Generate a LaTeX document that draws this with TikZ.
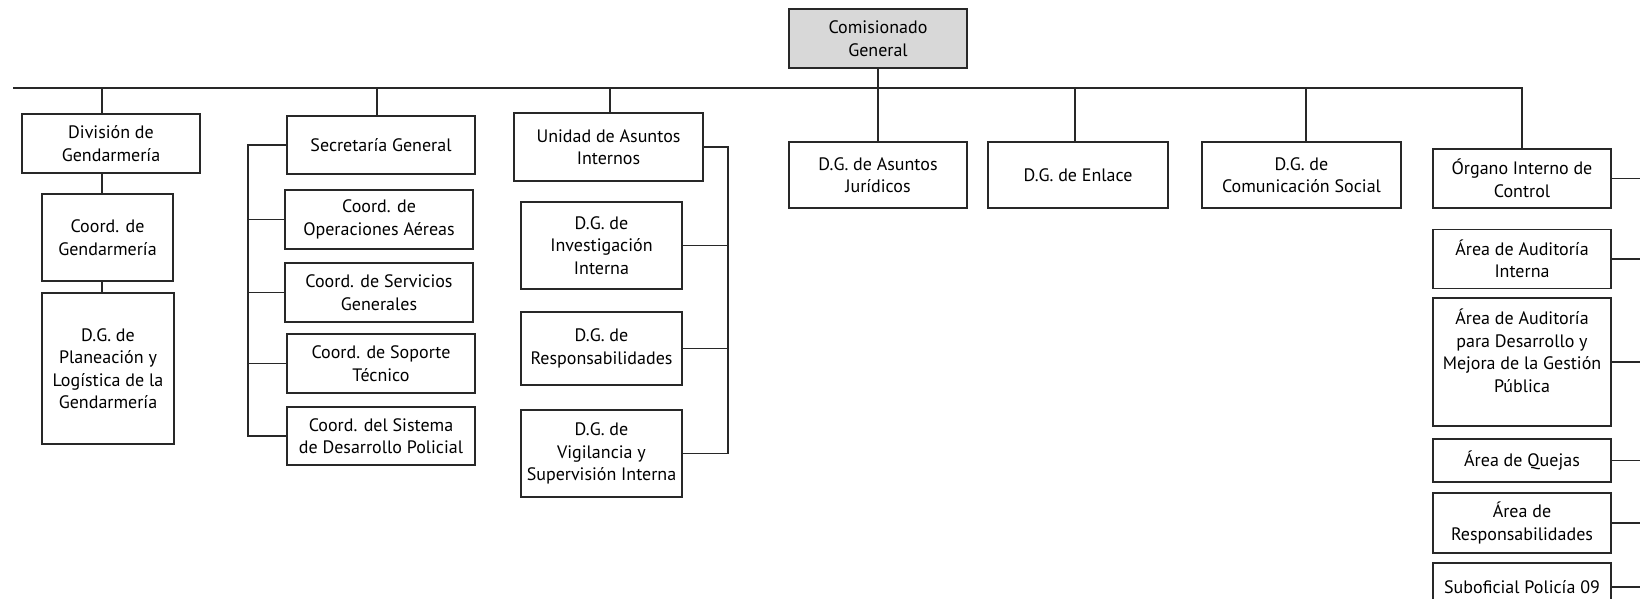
\documentclass[tikz,border=0pt]{standalone}
\usepackage{fontspec}
\setmainfont{PT Sans}
\definecolor{ln}{RGB}{40,40,40}
\definecolor{comfill}{RGB}{216,216,216}
\begin{document}
\begin{tikzpicture}[x=1pt,y=-1pt,
  box/.style={draw=ln, line width=1.2pt, fill=white, align=center, inner sep=0pt,
    font=\fontsize{18}{22.5}\selectfont},
  conn/.style={draw=ln, line width=1.3pt}]
\clip (0,0) rectangle (1640,598);
\fill[white] (0,0) rectangle (1640,598);

% nodes
\node[box, fill=comfill, minimum width=178pt, minimum height=59pt] (com) at (878,38.5) {Comisionado\\General};
\node[box, minimum width=178pt, minimum height=59pt] (div) at (111,143.5) {División de\\Gendarmería};
\node[box, minimum width=131pt, minimum height=87pt] (cg) at (107.5,237.5) {Coord. de\\Gendarmería};
\node[box, minimum width=132pt, minimum height=151pt] (pl) at (108,368.5) {D.G. de\\Planeación y\\Logística de la\\Gendarmería};
\node[box, minimum width=188pt, minimum height=58pt] (sg) at (381,145) {Secretaría General};
\node[box, minimum width=188pt, minimum height=59pt] (coa) at (379,219.5) {Coord. de\\Operaciones Aéreas};
\node[box, minimum width=188pt, minimum height=59pt] (csg) at (379,292.5) {Coord. de Servicios\\Generales};
\node[box, minimum width=188pt, minimum height=59pt] (cst) at (381,363.5) {Coord. de Soporte\\Técnico};
\node[box, minimum width=188pt, minimum height=58pt] (csd) at (381,436) {Coord. del Sistema\\de Desarrollo Policial};
\node[box, minimum width=189pt, minimum height=68pt] (uai) at (608.5,147) {Unidad de Asuntos\\Internos};
\node[box, minimum width=161pt, minimum height=87pt] (dgi) at (601.5,245.5) {D.G. de\\Investigación\\Interna};
\node[box, minimum width=161pt, minimum height=73pt] (dgr) at (601.5,348.5) {D.G. de\\Responsabilidades};
\node[box, minimum width=161pt, minimum height=87pt] (dgv) at (601.5,453.5) {D.G. de\\Vigilancia y\\Supervisión Interna};
\node[box, minimum width=178pt, minimum height=66pt] (dgaj) at (878,175) {D.G. de Asuntos\\Jurídicos};
\node[box, minimum width=180pt, minimum height=66pt] (dgen) at (1078,175) {D.G. de Enlace};
\node[box, minimum width=199pt, minimum height=66pt] (dgc) at (1301.5,175) {D.G. de\\Comunicación Social};
\node[box, minimum width=178pt, minimum height=59pt] (oic) at (1522,178.5) {Órgano Interno de\\Control};
\node[box, minimum width=178pt, minimum height=59pt] (aai) at (1522,259) {Área de Auditoría\\Interna};
\node[box, minimum width=178pt, minimum height=128pt] (aad) at (1522,362) {Área de Auditoría\\para Desarrollo y\\Mejora de la Gestión\\Pública\\\mbox{}};
\node[box, minimum width=178pt, minimum height=43pt] (aq) at (1522,460.5) {Área de Quejas};
\node[box, minimum width=178pt, minimum height=60pt] (ar) at (1522,523) {Área de\\Responsabilidades};
\node[box, minimum width=178pt, minimum height=48pt] (so) at (1522,587) {Suboficial Policía 09};

% bus coordinates
\coordinate (b0) at (13,88);
\coordinate (bdiv) at (102,88);
\coordinate (bsg) at (377,88);
\coordinate (buai) at (610,88);
\coordinate (bdgen) at (1075,88);
\coordinate (bdgc) at (1306,88);
\coordinate (lb) at (248,0);
\coordinate (rb) at (728,0);
\coordinate (re) at (1640,0);

% connectors
\draw[conn] (b0) -- (b0 -| oic.north) -- (oic.north);
\draw[conn] (com.south) -- (dgaj.north);
\draw[conn] (bdiv) -- (bdiv |- div.north);
\draw[conn] (bdiv |- div.south) -- (bdiv |- cg.north);
\draw[conn] (bdiv |- cg.south) -- (bdiv |- pl.north);
\draw[conn] (bsg) -- (bsg |- sg.north);
\draw[conn] (sg.west) -- (lb |- sg.west) -- (lb |- csd.west) -- (csd.west);
\foreach \n in {coa,csg,cst} \draw[conn] (lb |- \n.west) -- (\n.west);
\draw[conn] (buai) -- (buai |- uai.north);
\draw[conn] (uai.east) -- (rb |- uai.east) -- (rb |- dgv.east) -- (dgv.east);
\foreach \n in {dgi,dgr} \draw[conn] (\n.east) -- (rb |- \n.east);
\draw[conn] (bdgen) -- (bdgen |- dgen.north);
\draw[conn] (bdgc) -- (bdgc |- dgc.north);
\foreach \n in {oic,aai,aad,aq,ar,so} \draw[conn] (\n.east) -- (re |- \n.east);
\end{tikzpicture}
\end{document}
